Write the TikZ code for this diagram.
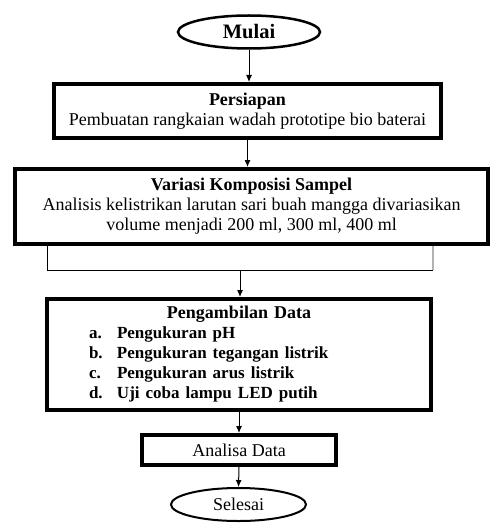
\documentclass[tikz,border=0pt]{standalone}
\usepackage{fontspec}
\setmainfont{Liberation Serif}
\usetikzlibrary{arrows.meta, shapes.geometric}

\newcommand{\dataitem}[2]{\hspace*{40pt}\makebox[28pt][l]{#1}#2}

\begin{document}
\begin{tikzpicture}[x=1pt, y=-1pt,
  box/.style={draw, line width=4pt, inner sep=0pt, align=center},
  term/.style={draw, ellipse, inner sep=0pt},
  flow/.style={-{Latex[length=7pt, width=6pt]}, line width=1pt}]
  \fontsize{18}{20}\selectfont
  \useasboundingbox (0,0) rectangle (490,524);

	\node[term, line width=2.5pt, minimum width=142pt, minimum height=33pt, font=\fontsize{20.5}{22}\selectfont\bfseries] (mulai) at (249,32) {Mulai};
	\node[box, minimum width=387pt, minimum height=54pt] (persiapan) at (247.5,111)
		{\textbf{Persiapan}\\ Pembuatan rangkaian wadah prototipe bio baterai};
	\node[box, minimum width=473pt, minimum height=75pt] (variasi) at (251.5,206.5)
		{\textbf{Variasi Komposisi Sampel}\\ Analisis kelistrikan larutan sari buah mangga divariasikan\\ volume menjadi 200 ml, 300 ml, 400 ml};
	\node[box, minimum width=384pt, minimum height=111pt, text width=380pt, align=left] (pengambilan) at (239,354.5)
		{\makebox[\linewidth]{\bfseries Pengambilan Data}\\
		 \fontsize{17}{20}\selectfont\bfseries\dataitem{a.}{Pengukuran pH}\\
		 \dataitem{b.}{Pengukuran tegangan listrik}\\
		 \dataitem{c.}{Pengukuran arus listrik}\\
		 \dataitem{d.}{Uji coba lampu LED putih}};
	\node[box, minimum width=194pt, minimum height=30pt] (analisa) at (239,450) {Analisa Data};
	\node[term, line width=2pt, minimum width=135pt, minimum height=33pt] (selesai) at (238.5,504.5) {Selesai};

	% garis penghubung
	\coordinate (bl) at (47,270);
	\coordinate (br) at (433,270);
	\coordinate (bm) at (240,270);
	\draw[line width=1pt] (variasi.south -| bl) -- (bl) -- (br);
	\draw[gray!60, line width=1.5pt] (br) -- (variasi.south -| br);

	\draw[flow] (mulai.south) -- (mulai.south |- persiapan.north);
	\draw[flow] (persiapan.south) -- (persiapan.south |- variasi.north);
	\draw[flow] (bm) -- (bm |- pengambilan.north);
	\draw[flow] (pengambilan.south) -- (analisa.north);
	\draw[flow] (analisa.south) -- (selesai.north);

\end{tikzpicture}
\end{document}
